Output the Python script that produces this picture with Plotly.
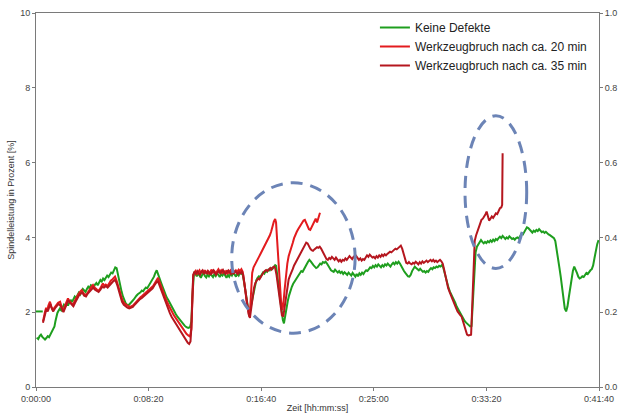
import plotly.graph_objects as go

# ---------------- data (time in seconds, power in %) ----------------
t_green = [0, 30, None,
    3, 10, 16, 22, 28, 34, 40, 46, 52, 58, 64, 70, 76, 82, 86, 90, 95, 100, 106, 112, 118, 124, 130, 136, 142, 148,
    154, 160, 166, 172, 178, 184, 190, 196, 202, 208, 214, 220, 226, 232, 238, 244, 250, 256, 262, 268, 274, 280,
    286, 292, 298, 304, 310, 316, 322, 328, 334, 340, 346, 352, 358, 362, 368, 374, 380, 386, 392, 398, 404, 410,
    416, 422, 428, 434, 440, 446, 452, 458, 464, 470, 476, 482, 488, 494, 500, 506, 512, 518, 524, 530, 536, 542,
    548, 556, 564, 572, 580, 588, 596, 604, 612, 620, 628, 636, 644, 652, 660, 668, 676, 684, 690, 694, 698, 702,
    708, 714, 720, 726, 732, 738, 744, 750, 756, 762, 768, 774, 780, 786, 792, 798, 804, 810, 816, 822, 828, 834,
    840, 846, 852, 858, 864, 870, 876, 882, 888, 894, 900, 906, 912, 918, 924, 930, 936, 942, 948, 954, 960, 966,
    972, 978, 984, 990, 996, 1002, 1008, 1014, 1020, 1026, 1032, 1038, 1044, 1050, 1056, 1062, 1066, 1072, 1078,
    1084, 1090, 1096, 1101, 1106, 1112, 1118, 1124, 1130, 1136, 1142, 1148, 1154, 1160, 1166, 1172, 1178, 1184,
    1190, 1196, 1202, 1208, 1214, 1220, 1226, 1232, 1238, 1244, 1250, 1256, 1262, 1268, 1274, 1280, 1286, 1292,
    1298, 1304, 1310, 1316, 1322, 1328, 1334, 1340, 1346, 1352, 1358, 1364, 1370, 1376, 1382, 1388, 1394, 1400,
    1406, 1412, 1418, 1424, 1430, 1436, 1442, 1448, 1454, 1460, 1466, 1472, 1478, 1484, 1490, 1496, 1502, 1508,
    1514, 1520, 1526, 1532, 1538, 1544, 1550, 1556, 1562, 1568, 1574, 1580, 1586, 1592, 1598, 1604, 1610, 1616,
    1622, 1628, 1634, 1640, 1646, 1652, 1658, 1664, 1670, 1676, 1682, 1688, 1694, 1700, 1706, 1712, 1718, 1724,
    1730, 1736, 1742, 1748, 1754, 1760, 1766, 1772, 1778, 1784, 1790, 1796, 1802, 1808, 1814, 1820, 1826, 1832,
    1838, 1844, 1850, 1856, 1862, 1868, 1874, 1880, 1886, 1892, 1898, 1904, 1910, 1916, 1922, 1928, 1934, 1940,
    1946, 1952, 1958, 1964, 1970, 1976, 1982, 1988, 1994, 2000, 2006, 2012, 2018, 2024, 2030, 2036, 2042, 2048,
    2054, 2060, 2066, 2072, 2078, 2084, 2090, 2096, 2102, 2108, 2114, 2120, 2126, 2132, 2138, 2144, 2150, 2156,
    2162, 2168, 2174, 2180, 2186, 2192, 2198, 2204, 2210, 2216, 2222, 2228, 2234, 2240, 2246, 2252, 2258, 2264,
    2270, 2276, 2282, 2288, 2294, 2300, 2306, 2312, 2318, 2324, 2330, 2336, 2342, 2348, 2354, 2360, 2366, 2372,
    2378, 2384, 2390, 2396, 2402, 2408, 2414, 2420, 2426, 2432, 2438, 2444, 2450, 2456, 2462, 2468, 2474, 2480,
    2486, 2492, 2498]
v_green = [2.02, 2.02, None,
    1.32, 1.28, 1.36, 1.40, 1.34, 1.30, 1.27, 1.31, 1.36, 1.33, 1.40, 1.48, 1.55, 1.62, 1.75, 1.88, 1.98, 2.04,
    2.10, 2.05, 2.12, 2.20, 2.15, 2.24, 2.18, 2.28, 2.33, 2.27, 2.36, 2.42, 2.38, 2.46, 2.52, 2.47, 2.55, 2.62,
    2.58, 2.54, 2.62, 2.68, 2.64, 2.72, 2.70, 2.66, 2.74, 2.78, 2.72, 2.80, 2.86, 2.82, 2.90, 2.86, 2.93, 2.98,
    2.94, 3.02, 3.06, 3.04, 3.12, 3.20, 3.18, 3.05, 2.88, 2.72, 2.55, 2.42, 2.32, 2.24, 2.20, 2.18, 2.22, 2.25,
    2.30, 2.34, 2.40, 2.44, 2.48, 2.50, 2.53, 2.58, 2.56, 2.62, 2.66, 2.64, 2.70, 2.75, 2.80, 2.86, 2.95, 3.05,
    3.12, 3.02, 2.90, 2.78, 2.65, 2.52, 2.40, 2.32, 2.22, 2.12, 2.04, 1.96, 1.88, 1.82, 1.75, 1.68, 1.64, 1.60,
    1.58, 1.60, 1.75, 2.40, 2.95, 3.08,
    3.02, 2.96, 3.04, 2.98, 2.92, 3.00, 3.05, 2.97, 2.93, 3.01, 2.96, 3.03, 2.99, 2.94, 3.02, 2.97, 3.05, 3.00,
    2.94, 3.02, 2.98, 3.04, 2.96, 2.92, 3.00, 2.95, 3.03, 2.98, 3.06, 3.00, 2.95, 3.03, 2.98, 3.06, 3.02, 3.00,
    2.80, 2.55, 2.30, 2.10, 1.98, 2.15, 2.38, 2.58, 2.75, 2.85, 2.92, 2.96, 2.94, 3.02, 3.06, 3.03, 3.10, 3.08,
    3.14, 3.12, 3.18, 3.16, 3.22, 3.26, 3.24, 2.95, 2.65, 2.35, 2.05, 1.80, 1.70, 1.90, 2.12, 2.30, 2.45, 2.58,
    2.68, 2.76, 2.82, 2.88, 2.94, 2.98, 3.05, 3.10, 3.08, 3.16, 3.22, 3.28, 3.35, 3.40, 3.36, 3.30, 3.26, 3.22,
    3.18, 3.20, 3.26, 3.30, 3.28, 3.34, 3.32, 3.35, 3.30, 3.24, 3.18, 3.12, 3.10, 3.08, 3.14, 3.10, 3.06, 3.10,
    3.05, 3.08, 3.02, 3.07, 3.04, 3.00, 3.06, 3.02, 2.98, 3.05, 3.00, 2.95, 3.02, 2.96, 3.04, 3.00, 3.06, 3.02,
    3.08, 3.12, 3.10, 3.16, 3.20, 3.18, 3.24, 3.20, 3.26,
    3.22, 3.28, 3.24, 3.20, 3.26, 3.22, 3.28, 3.25, 3.30, 3.26, 3.22, 3.28, 3.32, 3.28, 3.34, 3.30, 3.35, 3.30,
    3.22, 3.15, 3.10, 3.05, 3.00, 2.96, 2.95, 3.00, 3.10, 3.18, 3.22, 3.18, 3.14, 3.12, 3.16, 3.12, 3.08, 3.10,
    3.06, 3.10, 3.08, 3.14, 3.18, 3.15, 3.20, 3.18, 3.22, 3.20, 3.24, 3.22, 3.26, 3.20, 3.05, 2.90, 2.78, 2.65,
    2.55, 2.48, 2.40, 2.32, 2.25, 2.15, 2.08, 2.00, 1.94, 1.88, 1.82, 1.76, 1.72, 1.68, 1.64, 1.62, 1.63, 2.20,
    3.00, 3.60, 3.75, 3.82, 3.90, 3.93, 3.88, 3.84, 3.88, 3.85, 3.90, 3.87, 3.92, 3.88, 3.94, 3.90, 3.96, 3.93,
    3.98, 4.02, 3.98, 4.04, 4.00, 3.96, 4.00, 3.97, 4.03, 4.00, 3.96, 3.98, 3.94, 3.98, 4.00, 3.97, 4.05, 4.10,
    4.08, 4.15, 4.22, 4.27, 4.25, 4.20, 4.15, 4.13, 4.18, 4.15, 4.20, 4.17, 4.22, 4.18, 4.14, 4.16, 4.12, 4.15,
    4.10, 4.08, 4.06, 4.04, 4.00, 3.98, 3.90, 3.70, 3.45, 3.20, 2.95, 2.65, 2.35, 2.10, 2.02, 2.15, 2.40, 2.65,
    2.90, 3.10, 3.22, 3.15, 3.05, 2.95, 2.90, 2.92, 2.96, 2.94, 3.00, 3.05, 3.02, 3.08, 3.12, 3.15, 3.25, 3.45,
    3.65, 3.82, 3.93]

t_red20 = [31, 36, 40, 45, 50, 55, 62, 68, 75, 82, 90, 98, 107, 114, 120, 127, 134, 142, 148, 155, 164, 172, 180,
    188, 196, 203, 210, 218, 225, 232, 240, 246, 253, 260, 268, 276, 284, 291, 297, 304, 310, 318, 325, 332, 340,
    346, 351, 357, 364, 370, 377, 384, 392, 400, 408, 416, 424, 431, 440, 448, 456, 464, 472, 480, 488, 496, 504,
    512, 520, 528, 536, 542, 548, 556, 564, 572, 580, 588, 596, 604, 612, 620, 628, 636, 644, 652, 660, 668, 676,
    684, 690, 694, 698, 702, 708, 714, 720, 726, 732, 738, 744, 750, 756, 762, 768, 774, 780, 786, 792, 798, 804,
    810, 816, 822, 828, 834, 840, 846, 852, 858, 864, 870, 876, 882, 888, 894, 900, 906, 912, 918, 924, 930, 936,
    942, 948, 952, 956, 960, 966, 972, 978, 984, 990, 996, 1002, 1008, 1014, 1020, 1026, 1032, 1038, 1044, 1050,
    1056, 1062, 1066, 1070, 1076, 1082, 1088, 1094, 1098, 1104, 1110, 1116, 1122, 1128, 1134, 1140, 1146, 1152,
    1158, 1164, 1170, 1176, 1182, 1188, 1194, 1200, 1206, 1212, 1218, 1224, 1230, 1236, 1242, 1248, 1254, 1258,
    1261]
v_red20 = [1.75, 1.95, 2.01, 2.12, 2.05, 2.18, 2.28, 2.15, 2.06, 2.12, 2.20, 2.25, 2.28, 2.12, 2.02, 2.15, 2.28,
    2.37, 2.30, 2.25, 2.19, 2.30, 2.40, 2.48, 2.55, 2.59, 2.52, 2.46, 2.48, 2.56, 2.62, 2.68, 2.73, 2.66, 2.62,
    2.57, 2.62, 2.72, 2.77, 2.70, 2.74, 2.70, 2.78, 2.84, 2.88, 2.92, 2.95, 2.86, 2.75, 2.60, 2.45, 2.32, 2.24,
    2.20, 2.16, 2.14, 2.16, 2.18, 2.24, 2.30, 2.36, 2.40, 2.44, 2.48, 2.52, 2.56, 2.60, 2.64, 2.70, 2.78, 2.88,
    2.92, 2.82, 2.68, 2.55, 2.42, 2.30, 2.20, 2.10, 2.00, 1.92, 1.85, 1.78, 1.70, 1.62, 1.55, 1.48, 1.42, 1.38,
    1.35, 1.55, 2.40, 2.95, 3.05, 3.10, 3.02, 3.08, 3.12, 3.04, 3.10, 3.05, 3.12, 3.06, 3.10, 3.02, 3.08, 3.14,
    3.06, 3.10, 3.04, 3.10, 3.15, 3.08, 3.12, 3.05, 3.10, 3.06, 3.12, 3.04, 3.08, 3.12, 3.05, 3.10, 3.06, 3.12,
    3.08, 3.14, 3.10, 3.15, 3.08, 2.85, 2.55, 2.25, 2.00, 1.88, 2.20, 2.70, 3.05, 3.20, 3.28, 3.35, 3.42, 3.48,
    3.55, 3.62, 3.70, 3.78, 3.85, 3.90, 3.95, 4.05, 4.15, 4.30, 4.42, 4.49, 4.40, 4.00, 3.40, 2.80, 2.30, 2.06,
    2.20, 2.60, 3.00, 3.30, 3.50, 3.60, 3.70, 3.85, 3.98, 4.08, 4.15, 4.22, 4.28, 4.35, 4.40, 4.45, 4.47, 4.38,
    4.30, 4.22, 4.20, 4.28, 4.38, 4.45, 4.50, 4.40, 4.55, 4.62, 4.66]

t_red35 = [31, 36, 41, 46, 52, 58, 64, 70, 76, 84, 92, 100, 108, 116, 122, 130, 138, 144, 150, 158, 166, 174, 182,
    190, 198, 206, 214, 222, 230, 238, 246, 254, 262, 270, 278, 286, 294, 302, 310, 318, 326, 334, 342, 350, 356,
    362, 368, 375, 382, 390, 398, 406, 414, 422, 430, 438, 446, 454, 462, 470, 478, 486, 494, 502, 510, 518, 526,
    534, 540, 546, 554, 562, 570, 578, 586, 594, 602, 610, 618, 626, 634, 642, 650, 658, 666, 674, 680, 686, 690,
    694, 698, 704, 710, 716, 722, 728, 734, 740, 746, 752, 758, 764, 770, 776, 782, 788, 794, 800, 806, 812, 818,
    824, 830, 836, 842, 848, 854, 860, 866, 872, 878, 884, 890, 896, 902, 908, 914, 920, 926, 932, 938, 944, 950,
    956, 962, 968, 974, 980, 986, 992, 998, 1004, 1010, 1016, 1022, 1028, 1034, 1040, 1046, 1052, 1058, 1062, 1068,
    1074, 1080, 1086, 1092, 1098, 1104, 1110, 1116, 1122, 1128, 1134, 1140, 1146, 1152, 1158, 1164, 1170, 1176,
    1182, 1188, 1194, 1200, 1206, 1212, 1218, 1224, 1230, 1236, 1242, 1248, 1254, 1260, 1266, 1272, 1278, 1284,
    1290, 1296, 1302, 1308, 1314, 1320, 1326, 1332, 1338, 1344, 1350, 1356, 1362, 1368, 1374, 1380, 1386, 1392,
    1398, 1404, 1410, 1416, 1422, 1428, 1434, 1440, 1446, 1452, 1458, 1464, 1470, 1476, 1482, 1488, 1494, 1500,
    1506, 1512, 1518, 1524, 1530, 1536, 1542, 1548, 1554, 1560, 1566, 1572, 1578, 1584, 1590, 1596, 1602, 1608,
    1614, 1620, 1626, 1632, 1638, 1644, 1650, 1656, 1662, 1668, 1674, 1680, 1686, 1692, 1698, 1704, 1710, 1716,
    1722, 1728, 1734, 1740, 1746, 1752, 1758, 1764, 1770, 1776, 1782, 1788, 1794, 1800, 1806, 1812, 1818, 1824,
    1830, 1836, 1842, 1848, 1854, 1860, 1866, 1872, 1878, 1884, 1890, 1896, 1902, 1908, 1914, 1920, 1926, 1932,
    1936, 1940, 1944, 1948, 1954, 1960, 1966, 1972, 1978, 1984, 1990, 1996, 2001, 2006, 2012, 2018, 2024, 2030,
    2036, 2042, 2048, 2054, 2060, 2066, 2070, 2072]
v_red35 = [1.72, 1.85, 1.98, 2.08, 2.02, 2.14, 2.22, 2.10, 2.02, 2.10, 2.16, 2.22, 2.18, 2.06, 2.00, 2.12, 2.25,
    2.32, 2.26, 2.20, 2.16, 2.26, 2.36, 2.44, 2.50, 2.52, 2.44, 2.42, 2.50, 2.56, 2.62, 2.66, 2.60, 2.56, 2.54,
    2.60, 2.68, 2.66, 2.70, 2.66, 2.72, 2.78, 2.82, 2.86, 2.80, 2.70, 2.55, 2.40, 2.28, 2.20, 2.15, 2.12, 2.10,
    2.12, 2.14, 2.20, 2.26, 2.30, 2.35, 2.38, 2.42, 2.46, 2.50, 2.54, 2.58, 2.64, 2.72, 2.80, 2.84, 2.76, 2.62,
    2.48, 2.35, 2.22, 2.10, 1.98, 1.88, 1.80, 1.72, 1.64, 1.56, 1.48, 1.40, 1.32, 1.25, 1.18, 1.15, 1.22, 1.60,
    2.50, 3.00, 3.08, 3.02, 3.10, 3.05, 3.00, 3.08, 3.12, 3.04, 3.08, 3.02, 3.10, 3.06, 3.00, 3.08, 3.12, 3.05,
    3.00, 3.06, 3.10, 3.04, 3.08, 3.13, 3.06, 3.02, 3.08, 3.12, 3.06, 3.02, 3.08, 3.04, 3.10, 3.06, 3.02, 3.08,
    3.04, 3.08, 3.00, 2.75, 2.45, 2.15, 1.95, 1.85, 2.10, 2.45, 2.65, 2.78, 2.85, 2.90, 2.88, 2.95, 3.00, 3.06,
    3.10, 3.13, 3.10, 3.15, 3.18, 3.14, 3.20, 3.22, 3.18, 3.00, 2.70, 2.40, 2.10, 1.92, 1.88, 2.15, 2.45, 2.70,
    2.88, 2.98, 3.05, 3.15, 3.25, 3.32, 3.40, 3.48, 3.55, 3.60, 3.66, 3.72, 3.80, 3.86, 3.84, 3.76, 3.70, 3.66,
    3.64, 3.68, 3.70, 3.74, 3.72, 3.75, 3.70, 3.62, 3.55, 3.48, 3.42, 3.40, 3.45, 3.42, 3.48, 3.44, 3.40, 3.46,
    3.42, 3.36, 3.40, 3.35, 3.40, 3.38, 3.44, 3.40, 3.45, 3.50, 3.46, 3.42, 3.48, 3.44, 3.50, 3.45, 3.40, 3.44,
    3.38, 3.42, 3.40, 3.46, 3.52, 3.48, 3.54, 3.50, 3.46, 3.48, 3.44, 3.50, 3.46, 3.52, 3.48, 3.54, 3.50, 3.55,
    3.52, 3.56, 3.58, 3.62, 3.60, 3.64, 3.66, 3.70, 3.68, 3.72, 3.76, 3.78, 3.70, 3.55, 3.42, 3.32, 3.30, 3.34,
    3.30, 3.28, 3.32, 3.30, 3.35, 3.32, 3.28, 3.34, 3.30, 3.36, 3.32, 3.35, 3.38, 3.34, 3.38, 3.40, 3.36, 3.40,
    3.35, 3.38, 3.34, 3.38, 3.40, 3.36, 3.30, 3.15, 2.95, 2.80, 2.65, 2.55, 2.45, 2.38, 2.28, 2.18, 2.10, 2.02,
    1.96, 1.92, 1.88, 1.75, 1.62, 1.50, 1.40, 1.38, 1.39, 1.40, 2.00, 2.80, 3.50, 3.90, 4.05, 4.15, 4.22, 4.35,
    4.47, 4.50, 4.55, 4.62, 4.69, 4.55, 4.45, 4.50, 4.56, 4.52, 4.60, 4.64, 4.62, 4.70, 4.78, 4.80, 4.87, 6.25]

series_names = ["Keine Defekte", "Werkzeugbruch nach ca. 20 min", "Werkzeugbruch nach ca. 35 min"]
x_tick_vals = [0, 500, 1000, 1500, 2000, 2500]
x_tick_text = ["0:00:00", "0:08:20", "0:16:40", "0:25:00", "0:33:20", "0:41:40"]
y_tick_vals = [0, 2, 4, 6, 8, 10]
y2_tick_vals = [0.0, 0.2, 0.4, 0.6, 0.8, 1.0]

# ---------------- figure ----------------
FONT = "Liberation Sans, Arial, sans-serif"
GREEN = "#1e9e1e"
RED20 = "#e31b1e"
RED35 = "#b5161e"
ELL = "#6c84b6"

fig = go.Figure()
fig.add_trace(go.Scatter(x=t_green, y=v_green, mode="lines", name=series_names[0],
                         line=dict(color=GREEN, width=2)))
fig.add_trace(go.Scatter(x=t_red20, y=v_red20, mode="lines", name=series_names[1],
                         line=dict(color=RED20, width=2)))
fig.add_trace(go.Scatter(x=t_red35, y=v_red35, mode="lines", name=series_names[2],
                         line=dict(color=RED35, width=2)))
# carrier for the secondary (right) axis
fig.add_trace(go.Scatter(x=[x_tick_vals[0]], y=[None], yaxis="y2", mode="lines",
                         showlegend=False, hoverinfo="skip"))

# dashed ellipses highlighting the tool breaks
fig.add_shape(type="circle", xref="x", yref="y", x0=869, x1=1417, y0=1.44, y1=5.46,
              line=dict(color=ELL, width=3, dash="12px,8px"), layer="above")
fig.add_shape(type="circle", xref="x", yref="y", x0=1905, x1=2179, y0=3.17, y1=7.25,
              line=dict(color=ELL, width=3, dash="12px,8px"), layer="above")

axis_common = dict(showline=True, linecolor="#7a7a7a", linewidth=1, showgrid=False, zeroline=False,
                   ticks="outside", ticklen=3, tickcolor="#7a7a7a", automargin=False,
                   tickfont=dict(family=FONT, size=9, color="#444"))

fig.update_layout(
    width=624, height=414,
    margin=dict(l=36, r=25, t=13, b=27, autoexpand=False),
    paper_bgcolor="white", plot_bgcolor="white",
    font=dict(family=FONT, color="#333"),
    xaxis=dict(range=[0, 2500], tickvals=x_tick_vals, ticktext=x_tick_text, mirror=True,
               title=dict(text="Zeit [hh:mm:ss]", font=dict(family=FONT, size=9, color="#333"), standoff=1),
               **axis_common),
    yaxis=dict(range=[0, 10], tickvals=y_tick_vals,
               title=dict(text="Spindelleistung in Prozent [%]", font=dict(family=FONT, size=9, color="#333"),
                          standoff=4),
               **axis_common),
    yaxis2=dict(range=[0, 1], tickvals=y2_tick_vals, tickformat=".1f", overlaying="y", side="right",
                **axis_common),
    legend=dict(x=0.602, y=1.0, xanchor="left", yanchor="top", bgcolor="rgba(0,0,0,0)",
                font=dict(family=FONT, size=12, color="#222"), itemwidth=30, tracegroupgap=0),
    showlegend=True,
)

fig.write_html("out.html", config={"displayModeBar": False},
               post_script="document.body.style.margin='0';document.body.style.padding='0';"
                           "document.body.style.overflow='hidden';")
